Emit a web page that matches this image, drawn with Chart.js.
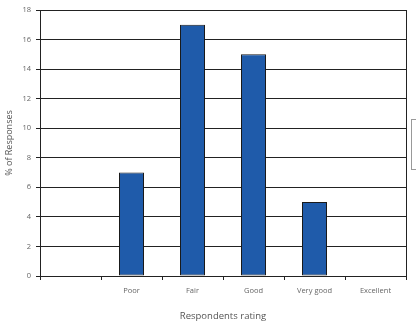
<!DOCTYPE html>
<html><head><meta charset="utf-8">
<script src="https://cdn.jsdelivr.net/npm/chart.js@4"></script>
<style>html,body{margin:0;padding:0;background:#fff}#wrap{width:416px;height:326px}</style>
</head><body><div id="wrap"><canvas id="c"></canvas></div>
<script>
const categories = ['', 'Poor', 'Fair', 'Good', 'Very good', 'Excellent'];
const responses = [null, 7, 17, 15, 5, null];
const yTicks = [0, 2, 4, 6, 8, 10, 12, 14, 16, 18];

const frame = {
  id: 'frame',
  afterDraw(chart) {
    const {ctx, chartArea: a} = chart;
    ctx.save();
    ctx.strokeStyle = '#222';
    ctx.lineWidth = 1;
    ctx.beginPath();
    ctx.moveTo(a.right + 0.5, a.top);
    ctx.lineTo(a.right + 0.5, a.bottom);
    ctx.stroke();
    ctx.strokeStyle = '#999';
    ctx.strokeRect(411.5, 119.5, 20, 50);
    ctx.restore();
  }
};

new Chart(document.getElementById('c'), {
  type: 'bar',
  data: {
    labels: categories,
    datasets: [{
      data: responses,
      backgroundColor: '#1F5BAA',
      borderColor: '#1a1a1a',
      borderWidth: 1,
      borderSkipped: false,
      categoryPercentage: 1,
      barPercentage: 0.41
    }]
  },
  options: {
    responsive: true,
    maintainAspectRatio: false,
    animation: false,
    layout: {padding: {top: 10, right: 10, left: 0, bottom: 0}},
    plugins: {legend: {display: false}, tooltip: {enabled: false}},
    scales: {
      x: {
        grid: {offset: true, drawOnChartArea: false, drawTicks: true, tickLength: 4, color: '#222'},
        border: {color: '#222', width: 1},
        ticks: {color: '#666', font: {family: 'Open Sans', size: 7.5}, padding: 6},
        title: {display: true, text: 'Respondents rating', color: '#555', font: {family: 'Open Sans', size: 9.5}, padding: {top: 13}},
        afterFit(s) { s.height = 50; }
      },
      y: {
        min: 0, max: 18,
        afterBuildTicks(s) { s.ticks = yTicks.map(v => ({value: v})); },
        grid: {color: '#222', lineWidth: 1, drawTicks: true, tickLength: 4},
        border: {color: '#222', width: 1},
        ticks: {color: '#666', font: {family: 'Open Sans', size: 7.5}, padding: 5},
        title: {display: true, text: '% of Responses', color: '#555', font: {family: 'Open Sans', size: 9}, padding: {bottom: 2}},
        afterFit(s) { s.width = 40; }
      }
    }
  },
  plugins: [frame]
});
</script>
</body></html>
